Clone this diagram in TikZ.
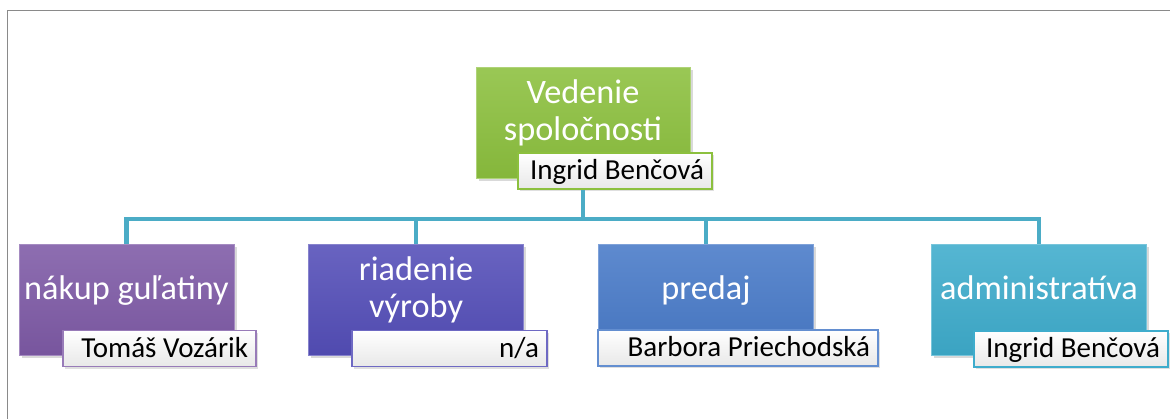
\documentclass[tikz,border=0pt]{standalone}
\usepackage{fontspec}
\setmainfont{Carlito}
\usepackage{tikz}
\usetikzlibrary{shadows,calc}
\usepackage{xcolor}
\definecolor{orggreen}{RGB}{140,192,62}
\definecolor{orgpurple}{RGB}{126,90,166}
\definecolor{orgindigo}{RGB}{84,78,184}
\definecolor{orgblue}{RGB}{72,122,200}
\definecolor{orgcyan}{RGB}{62,172,204}
\definecolor{orgline}{RGB}{75,172,198}
\definecolor{orgframe}{RGB}{138,138,138}
\tikzstyle{connector} = [line width=2.3pt, color=orgline]
\tikzstyle{frameline} = [line width=0.9pt, color=orgframe]
\tikzstyle{unitbox} = [rectangle, minimum width=4.3cm, minimum height=2.22cm, inner sep=2pt, align=center, text=white, font=\fontsize{19.5}{21.5}\selectfont, top color=#1!88!white, bottom color=#1!95!black, draw=#1!70!white, thin, drop shadow={shadow xshift=1.5pt, shadow yshift=-1.5pt, opacity=0.3}, execute at begin node={\rule{0pt}{0.5cm}}, execute at end node={\rule[-0.5cm]{0pt}{0pt}}]
\tikzstyle{namebox} = [rectangle, minimum height=0.72cm, inner xsep=0.16cm, inner ysep=0pt, text width=#1, align=flush right, text=black, font=\fontsize{16.5}{19}\selectfont, top color=white, bottom color=black!9, line width=0.9pt, drop shadow={shadow xshift=1.2pt, shadow yshift=-1.2pt, opacity=0.25}, execute at begin node={\rule[-0.15cm]{0pt}{0.65cm}}]

\begin{document}
\begin{tikzpicture}[x=0.02cm, y=-0.02cm]
\useasboundingbox (0,0) rectangle (1170,419);
% frame
\draw[frameline] (7.5,419) -- (7.5,10.5) -- (1170,10.5);

% Vedenie spolocnosti
\node[unitbox=orggreen, minimum width=4.28cm] (ved) at (583,122.5) {Vedenie\\spoločnosti};
\node[namebox=3.56cm, draw=orggreen] (vedN) at (615,171) {Ingrid Benčová};

% nakup gulatiny
\node[unitbox=orgpurple] (nak) at (126.5,299.5) {nákup guľatiny};
\node[namebox=3.54cm, draw=orgpurple!80!white] (nakN) at (159.5,348.5) {Tomáš Vozárik};

% riadenie vyroby
\node[unitbox=orgindigo] (ria) at (416,299.5) {riadenie\\výroby};
\node[namebox=3.58cm, draw=orgindigo!85!white] (riaN) at (449.5,348.5) {n/a};

% predaj
\node[unitbox=orgblue] (pre) at (706,299.5) {predaj};
\node[namebox=5.28cm, draw=orgblue!85!white] (preN) at (738,348) {Barbora Priechodská};

% administrativa
\node[unitbox=orgcyan] (adm) at (1039,299.5) {administratíva};
\node[namebox=3.56cm, draw=orgcyan] (admN) at (1071,349) {Ingrid Benčová};

% connectors
\draw[connector] (ved.south |- vedN.south) -- ++(0,29) coordinate (fork);
\foreach \u in {nak,ria,pre,adm}
  \draw[connector] (fork) -| (\u.north);
\end{tikzpicture}
\end{document}
